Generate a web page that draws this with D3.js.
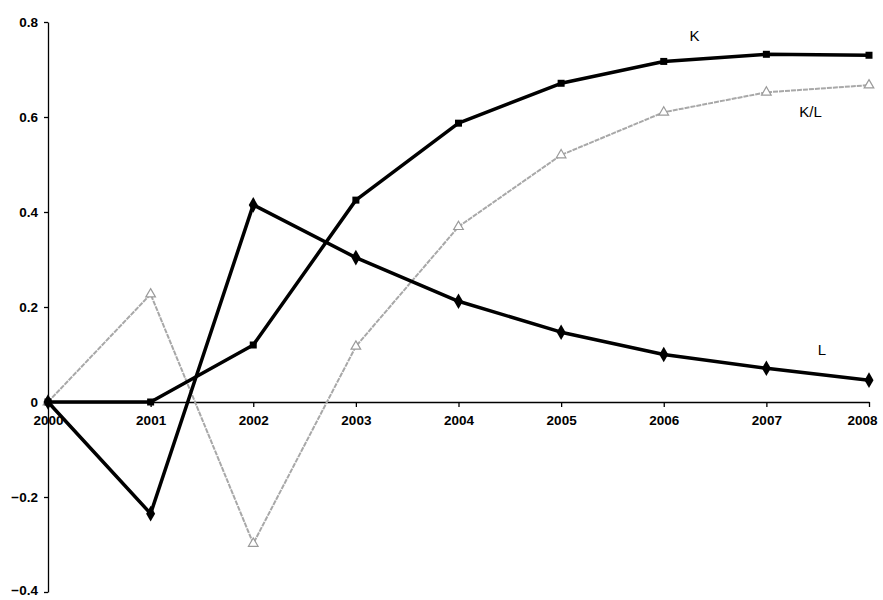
<!DOCTYPE html>
<html>
<head>
<meta charset="utf-8">
<script src="https://cdn.jsdelivr.net/npm/d3@7"></script>
<style>
  html, body { margin: 0; padding: 0; background: #fff; }
  svg { display: block; font-family: "Liberation Sans", Arial, sans-serif; }
  .tick text { font-size: 13.5px; font-weight: bold; fill: #000; }
</style>
</head>
<body>
<svg id="chart" width="883" height="600"></svg>
<script>
// Years on the horizontal axis
const years = [2000, 2001, 2002, 2003, 2004, 2005, 2006, 2007, 2008];
// Series values
const seriesK  = [0, 0, 0.12, 0.425, 0.587, 0.671, 0.717, 0.732, 0.730];
const seriesL  = [0, -0.235, 0.415, 0.304, 0.212, 0.147, 0.100, 0.071, 0.046];
const seriesKL = [0, 0.227, -0.298, 0.117, 0.369, 0.520, 0.610, 0.652, 0.667];
// Y tick values
const yTicks = [0.8, 0.6, 0.4, 0.2, 0, -0.2, -0.4];

const svg = d3.select("#chart");
const x = d3.scaleLinear().domain([2000, 2008]).range([48, 869]);
const y = d3.scaleLinear().domain([-0.4, 0.8]).range([592, 22]);

// Y axis
const yAxis = svg.append("g")
  .attr("transform", `translate(${x(2000)},0)`)
  .call(d3.axisLeft(y).tickValues(yTicks).tickSize(4).tickSizeOuter(0)
        .tickFormat(d => d === 0 ? "0" : d3.format(".1f")(d)));
yAxis.select(".domain").attr("stroke", "#000").attr("stroke-width", 1.3);
yAxis.selectAll(".tick line").attr("stroke", "#000").attr("stroke-width", 1.3);
yAxis.selectAll(".tick text").attr("x", -10)
  .attr("dy", d => d === -0.4 ? "0.2em" : "0.32em");

// X axis along zero
const xAxis = svg.append("g")
  .attr("transform", `translate(0,${y(0)})`)
  .call(d3.axisBottom(x).tickValues(years).tickSize(5).tickSizeOuter(0)
        .tickFormat(d3.format("d")));
xAxis.select(".domain").attr("stroke", "#000").attr("stroke-width", 1.5);
xAxis.selectAll(".tick line").attr("stroke", "#000").attr("stroke-width", 1.3);
xAxis.selectAll(".tick text").attr("y", 13)
  .attr("dx", d => d === 2008 ? -7 : 0);

const line = d3.line().x((d, i) => x(years[i])).y(d => y(d));

// K/L: thin grey line with open triangles
svg.append("path").datum(seriesKL)
  .attr("d", line).attr("fill", "none")
  .attr("stroke", "#a8a8a8").attr("stroke-width", 2).attr("stroke-dasharray", "5,1");
svg.append("g").selectAll("path").data(seriesKL).join("path")
  .attr("transform", (d, i) => `translate(${x(years[i])},${y(d)})`)
  .attr("d", d3.symbol(d3.symbolTriangle, 40))
  .attr("fill", "#fff").attr("stroke", "#9a9a9a").attr("stroke-width", 1.2);

// K: thick black line with squares
svg.append("path").datum(seriesK)
  .attr("d", line).attr("fill", "none")
  .attr("stroke", "#000").attr("stroke-width", 3.5).attr("stroke-linejoin", "round");
svg.append("g").selectAll("rect").data(seriesK).join("rect")
  .attr("x", (d, i) => x(years[i]) - 3.5).attr("y", d => y(d) - 3.5)
  .attr("width", 7).attr("height", 7).attr("fill", "#000");

// L: thick black line with diamonds
svg.append("path").datum(seriesL)
  .attr("d", line).attr("fill", "none")
  .attr("stroke", "#000").attr("stroke-width", 3.5).attr("stroke-linejoin", "round");
svg.append("g").selectAll("path").data(seriesL).join("path")
  .attr("transform", (d, i) => `translate(${x(years[i])},${y(d)})`)
  .attr("d", d3.symbol(d3.symbolDiamond, 70))
  .attr("fill", "#000");

// Series labels
const labels = [
  { text: "K",   year: 2006.25, value: 0.76 },
  { text: "K/L", year: 2007.32, value: 0.6 },
  { text: "L",   year: 2007.5,  value: 0.1 }
];
svg.append("g").selectAll("text").data(labels).join("text")
  .attr("x", d => x(d.year)).attr("y", d => y(d.value))
  .attr("font-size", 15).attr("fill", "#000")
  .text(d => d.text);
</script>
</body>
</html>
